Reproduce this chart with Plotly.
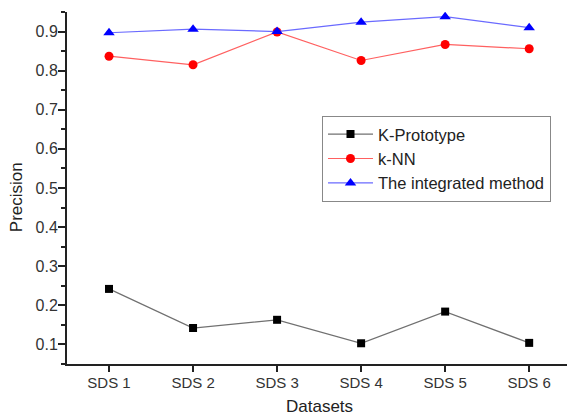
import plotly.graph_objects as go

categories = ["SDS 1", "SDS 2", "SDS 3", "SDS 4", "SDS 5", "SDS 6"]
k_prototype = [0.242, 0.142, 0.163, 0.103, 0.184, 0.104]
knn = [0.837, 0.815, 0.899, 0.826, 0.867, 0.856]
integrated = [0.897, 0.906, 0.900, 0.924, 0.938, 0.910]
y_ticks = [0.1, 0.2, 0.3, 0.4, 0.5, 0.6, 0.7, 0.8, 0.9]

font_family = "Liberation Sans, Arial, sans-serif"

fig = go.Figure()
fig.add_trace(go.Scatter(
    x=categories, y=k_prototype, name="K-Prototype", mode="lines+markers",
    line=dict(color="#707070", width=1.2),
    marker=dict(symbol="square", color="black", size=8)))
fig.add_trace(go.Scatter(
    x=categories, y=knn, name="k-NN", mode="lines+markers",
    line=dict(color="#ff6060", width=1.2),
    marker=dict(symbol="circle", color="red", size=9)))
fig.add_trace(go.Scatter(
    x=categories, y=integrated, name="The integrated method", mode="lines+markers",
    line=dict(color="#6a6aff", width=1.2),
    marker=dict(symbol="triangle-up", color="blue", size=10)))

fig.update_layout(
    width=567, height=416,
    margin=dict(l=67, r=0, t=12, b=52),
    paper_bgcolor="white", plot_bgcolor="white",
    font=dict(family=font_family, size=14, color="#333333"),
    showlegend=True,
    legend=dict(
        x=0.51, y=0.705, xanchor="left", yanchor="top",
        bordercolor="#888888", borderwidth=1, bgcolor="white",
        font=dict(family=font_family, size=16.5, color="#222222"),
        tracegroupgap=0, itemwidth=45,
    ),
    annotations=[
        dict(text="Precision", xref="paper", yref="paper", x=-0.102, y=0.474,
             xanchor="center", yanchor="middle", textangle=-90, showarrow=False,
             font=dict(family=font_family, size=17, color="#222222")),
        dict(text="Datasets", xref="paper", yref="paper", x=0.504, y=-0.122,
             xanchor="center", yanchor="middle", showarrow=False,
             font=dict(family=font_family, size=17, color="#222222")),
    ],
)
fig.update_xaxes(
    type="category", range=[-0.5, 5.45], automargin=False,
    showline=True, linecolor="#222222", linewidth=2,
    ticks="outside", ticklen=6, tickwidth=1.5, tickcolor="#222222",
    minor=dict(ticks="outside", ticklen=4, tickwidth=1.5, tickcolor="#222222", showgrid=False),
    showgrid=False, zeroline=False, ticklabelstandoff=-2,
    tickfont=dict(size=15, color="#333333"),
)
fig.update_yaxes(
    range=[0.05, 0.95], tickvals=y_ticks, ticktext=[f"{v:.1f}" for v in y_ticks],
    automargin=False,
    showline=True, linecolor="#222222", linewidth=2,
    ticks="outside", ticklen=7, tickwidth=1.5, tickcolor="#222222",
    minor=dict(dtick=0.05, tick0=0.05, ticks="outside", ticklen=4, tickwidth=1.5, tickcolor="#222222", showgrid=False),
    showgrid=False, zeroline=False, ticklabelstandoff=-3,
    tickfont=dict(size=16, color="#333333"),
)

fig.write_html("out.html", config={"displayModeBar": False},
               post_script="document.body.style.margin='0';document.body.style.overflow='hidden';")
